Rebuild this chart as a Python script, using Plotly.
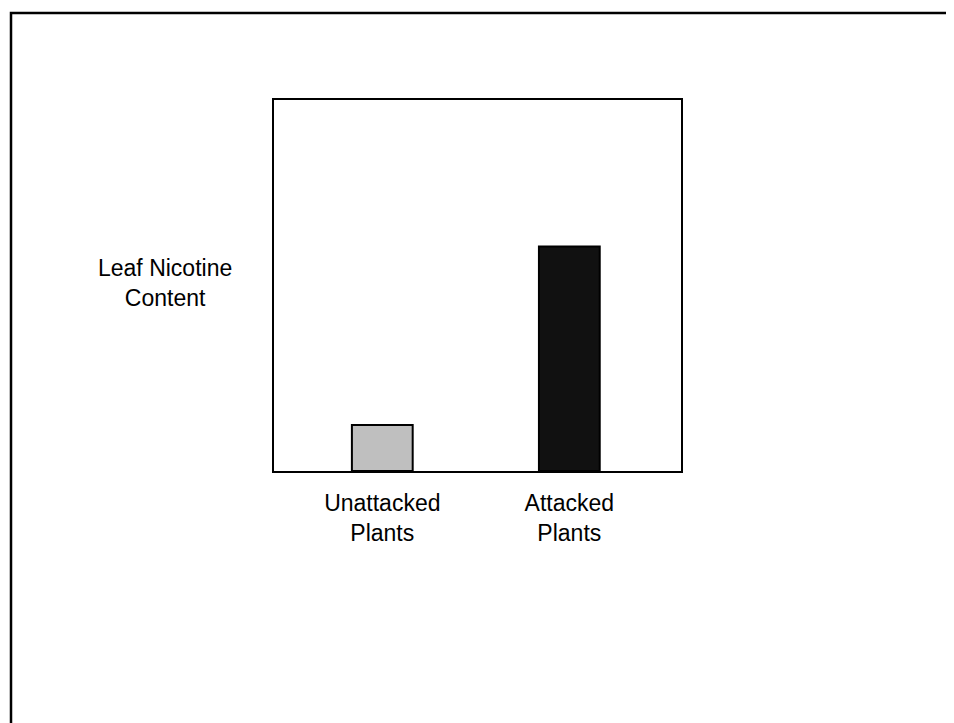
import plotly.graph_objects as go

categories = ["Unattacked<br>Plants", "Attacked<br>Plants"]
positions = [0, 1]
values = [12.4, 60.5]
colors = ["#bfbfbf", "#111111"]
y_label = "Leaf Nicotine<br>Content"

OFF = 7  # page offset of the figure
W, H = 954, 723
L, R, T, B = 273 - OFF, 680 - OFF, 99 - OFF, 470 - OFF
pw, ph = R - L, B - T

fig = go.Figure()
fig.add_trace(go.Bar(
    x=positions, y=values, width=0.325,
    marker=dict(color=colors, line=dict(color="black", width=2)),
    showlegend=False, hoverinfo="skip",
))

font = dict(family="Liberation Sans, Arial, sans-serif", size=23, color="black")

fig.update_layout(
    width=W, height=H,
    margin=dict(l=L, r=W - R, t=T, b=H - B, pad=0),
    paper_bgcolor="white", plot_bgcolor="white",
    font=font,
    xaxis=dict(range=[-0.579, 1.597], tickvals=positions, ticktext=categories,
               showline=True, mirror=True, linecolor="black", linewidth=2,
               showgrid=False, zeroline=False, ticks="", tickfont=font,
               ticklabelstandoff=10, fixedrange=True),
    yaxis=dict(range=[0, 100], showline=True, mirror=True, linecolor="black",
               linewidth=2, showgrid=False, zeroline=False, ticks="",
               showticklabels=False, fixedrange=True),
)

fig.add_annotation(text=y_label, xref="paper", yref="paper",
                   x=(164 - OFF - L) / pw, y=(B - (281.5 - OFF)) / ph, showarrow=False,
                   font=font, align="center", xanchor="center", yanchor="middle")

# outer slide frame
fx = (10 - OFF - L) / pw
fy = (B - (12 - OFF)) / ph
fig.add_shape(type="path", xref="paper", yref="paper",
              path=f"M {fx} {(B - 800) / ph} L {fx} {fy} L {(1000 - L) / pw} {fy}",
              line=dict(color="black", width=2.5))

fig.write_html("out.html")
